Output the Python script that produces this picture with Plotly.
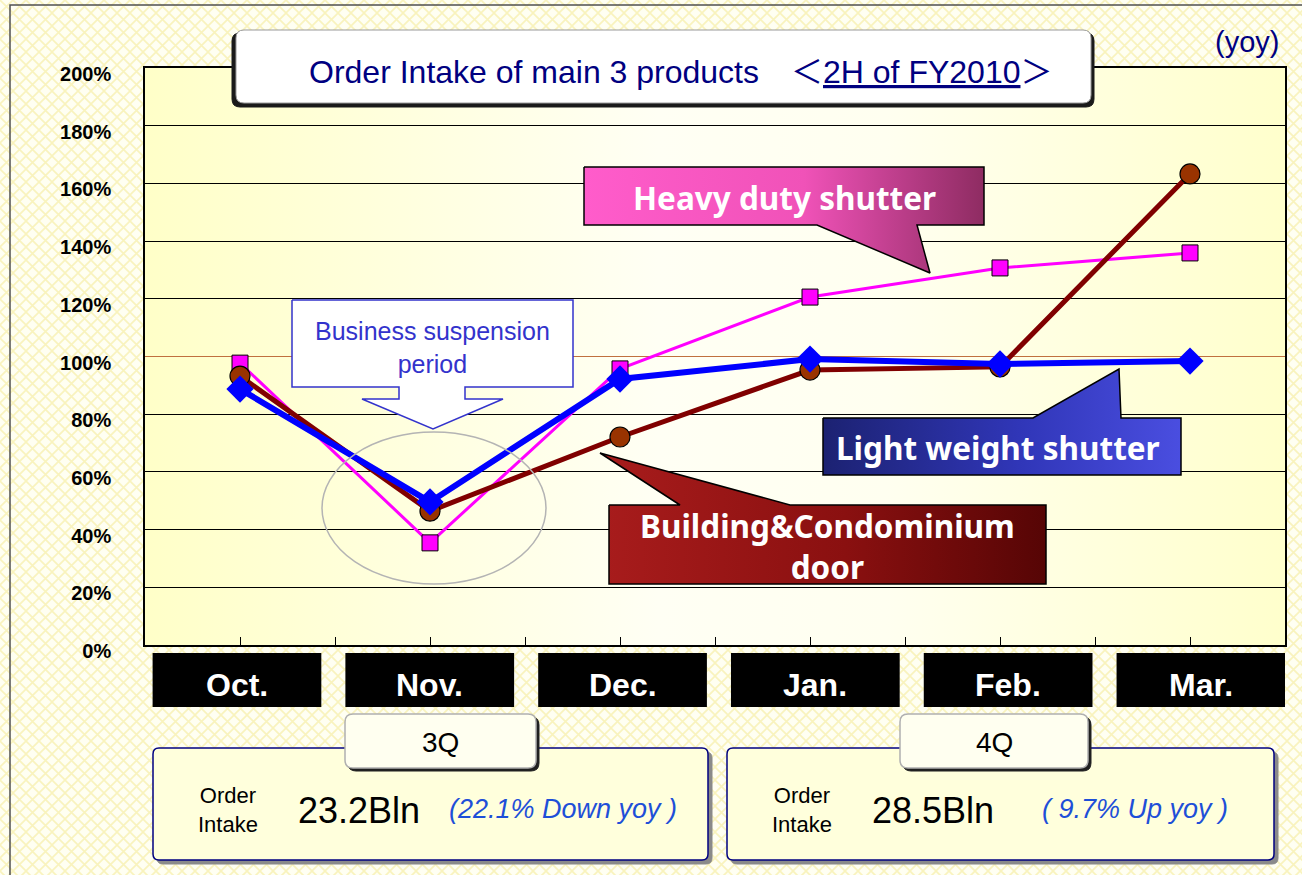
import base64
import plotly.graph_objects as go

# ---------------- data ----------------
months = ["Oct.", "Nov.", "Dec.", "Jan.", "Feb.", "Mar."]
heavy_duty = [97.7, 35.4, 95.7, 120.6, 130.7, 135.9]
light_weight = [88.7, 49.6, 92.2, 99.1, 97.4, 98.4]
building_door = [93.2, 46.4, 72.1, 95.3, 96.4, 163.3]
y_tick_vals = [0, 20, 40, 60, 80, 100, 120, 140, 160, 180, 200]
y_tick_text = ["0%", "20%", "40%", "60%", "80%", "100%", "120%", "140%", "160%", "180%", "200%"]
quarters = ["3Q", "4Q"]
quarter_amount = ["23.2Bln", "28.5Bln"]
quarter_change = ["(22.1% Down yoy )", "( 9.7% Up yoy )"]
title_main = "Order Intake of main 3 products"
title_period = "2H of FY2010"

# ---------------- layout constants (pixels) ----------------
W, H = 1302, 875
PL, PR, PT, PB = 145, 1285, 68, 645
REG = "Liberation Sans, Arial, Noto Sans CJK JP"
BOLD = "Noto Sans, Liberation Sans, Arial"

xs = list(range(len(months)))

# background lattice pattern (paper)
bg_svg = f"""<svg xmlns='http://www.w3.org/2000/svg' width='{W}' height='{H}'>
<defs><pattern id='p' width='13' height='13' patternUnits='userSpaceOnUse'>
<rect width='13' height='13' fill='#fffff2'/>
<path d='M0 0L13 13M13 0L0 13' stroke='#f9f3bd' stroke-width='1.6'/>
</pattern></defs><rect width='{W}' height='{H}' fill='url(#p)'/></svg>"""
plot_svg = """<svg xmlns='http://www.w3.org/2000/svg' width='600' height='300' preserveAspectRatio='none'>
<defs><linearGradient id='g' x1='0' y1='0' x2='1' y2='0'>
<stop offset='0' stop-color='#ffffc8'/><stop offset='0.45' stop-color='#fffff4'/>
<stop offset='0.65' stop-color='#fffff0'/><stop offset='1' stop-color='#ffffcc'/>
</linearGradient></defs><rect width='600' height='300' fill='url(#g)'/></svg>"""


def uri(svg):
    return "data:image/svg+xml;base64," + base64.b64encode(svg.encode()).decode()


fig = go.Figure()

# ---------------- series ----------------
fig.add_trace(go.Scatter(
    x=xs, y=heavy_duty, mode="lines+markers", name="Heavy duty shutter",
    line=dict(color="#ff00ff", width=3),
    marker=dict(symbol="square", size=16, color="#ff00ff", line=dict(color="black", width=1)),
    xaxis="x", yaxis="y", showlegend=False))
fig.add_trace(go.Scatter(
    x=xs, y=building_door, mode="lines+markers", name="Building&Condominium door",
    line=dict(color="#800000", width=5),
    marker=dict(symbol="circle", size=20, color="#993300", line=dict(color="black", width=1.2)),
    xaxis="x", yaxis="y", showlegend=False))
fig.add_trace(go.Scatter(
    x=xs, y=light_weight, mode="lines+markers", name="Light weight shutter",
    line=dict(color="#0000ff", width=6),
    marker=dict(symbol="diamond", size=21, color="#0000ff", line=dict(width=0)),
    xaxis="x", yaxis="y", showlegend=False))


# ---------------- pixel overlay helpers ----------------
def poly(pts, c0, c1, c2=None, lw=1.5, lc="black"):
    xx = [p[0] for p in pts] + [pts[0][0]]
    yy = [p[1] for p in pts] + [pts[0][1]]
    scale = [[0, c0], [1, c1]] if c2 is None else [[0, c0], [0.55, c1], [1, c2]]
    fig.add_trace(go.Scatter(
        x=xx, y=yy, mode="lines", fill="toself",
        fillgradient=dict(type="horizontal", colorscale=scale),
        line=dict(color=lc, width=lw), xaxis="x2", yaxis="y2",
        hoverinfo="skip", showlegend=False))


annotations = []


def ann(x, y, text, size, color="black", family=REG, xanchor="center", yanchor="middle"):
    annotations.append(dict(
        x=x, y=y, xref="x2", yref="y2", text=text, showarrow=False,
        font=dict(size=size, color=color, family=family),
        xanchor=xanchor, yanchor=yanchor))


shapes = []


def rrect(x0, y0, x1, y1, r, fill, line, lw=1.5, layer="above"):
    p = (f"M{x0 + r},{y0} L{x1 - r},{y0} Q{x1},{y0} {x1},{y0 + r} L{x1},{y1 - r} "
         f"Q{x1},{y1} {x1 - r},{y1} L{x0 + r},{y1} Q{x0},{y1} {x0},{y1 - r} "
         f"L{x0},{y0 + r} Q{x0},{y0} {x0 + r},{y0} Z")
    shapes.append(dict(type="path", path=p, xref="x2", yref="y2", fillcolor=fill,
                       line=dict(color=line, width=lw), layer=layer))


# callouts (gradient polygons)
poly([(584, 167), (984, 167), (984, 225), (917, 225), (930, 273), (817, 225), (584, 225)],
     "#ff5ccb", "#f052b8", "#8e2c62")
poly([(823, 418), (1033, 418), (1119, 369), (1121, 418), (1181, 418), (1181, 475), (823, 475)],
     "#1c2272", "#3036b8", "#4a4ee0")
poly([(609, 505), (680, 505), (600, 453), (790, 505), (1046, 505), (1046, 584), (609, 584)],
     "#a81c1c", "#8a1010", "#560505")
# business suspension arrow box
fig.add_trace(go.Scatter(
    x=[292, 573, 573, 465, 465, 503, 433, 362, 399, 399, 292, 292],
    y=[300, 300, 387, 387, 399, 399, 429, 399, 399, 387, 387, 300],
    mode="lines", fill="toself", fillcolor="white",
    line=dict(color="#3333cc", width=1.5), xaxis="x2", yaxis="y2",
    hoverinfo="skip", showlegend=False))

ann(784, 197, "<b>Heavy duty shutter</b>", 31.5, "white", BOLD)
ann(998, 447, "<b>Light weight shutter</b>", 31.5, "white", BOLD)
ann(827, 546, "<b>Building&Condominium<br>door</b>", 31.5, "white", BOLD)
ann(432, 347, "Business suspension<br>period", 25, "#3333cc", REG)

# ellipse
shapes.append(dict(type="circle", xref="x2", yref="y2", x0=322, y0=432, x1=546, y1=584,
                   line=dict(color="#b4b4b4", width=1.5), layer="above"))

# title box
rrect(232, 33, 1094, 107, 8, "#1a1a1a", "#1a1a1a", 1)
rrect(236, 30, 1091, 103, 8, "white", "#9a9a9a", 1)
ann(680, 72, f"{title_main}　＜<u>{title_period}</u>＞", 32, "#000080", REG)
ann(1281, 42, "(yoy)", 29, "#000080", REG, xanchor="right")

# outer frame
shapes.append(dict(type="rect", xref="x2", yref="y2", x0=10, y0=5, x1=1320, y1=890,
                   line=dict(color="#505050", width=1.5), layer="above"))

# month label boxes with the month names
for i in xs:
    cx = i * 1.0147 - 0.016
    shapes.append(dict(type="rect", xref="x", yref="paper",
                       x0=cx - 0.444, x1=cx + 0.444,
                       y0=1 - 707 / H, y1=1 - 653 / H,
                       fillcolor="black", line=dict(width=0), layer="below"))
    annotations.append(dict(x=cx, y=1 - 685 / H, xref="x", yref="paper", text=months[i],
                            showarrow=False, xanchor="center", yanchor="middle",
                            font=dict(family="Liberation Sans, Arial", size=32,
                                      color="white", weight="bold")))

# 100% reference line
shapes.append(dict(type="line", xref="x", yref="y", x0=-0.5, x1=5.5, y0=100, y1=100,
                   line=dict(color="#c0703f", width=1.2), layer="between"))

# quarter boxes
qboxes = [(153, 708, 345, 536), (727, 1274, 900, 1088)]
for qi, (bx0, bx1, tx0, tx1) in enumerate(qboxes):
    rrect(bx0 + 4, 752, bx1 + 4, 864, 6, "#8a8a8a", "#8a8a8a", 1)
    rrect(bx0, 748, bx1, 860, 6, "#ffffdc", "#000080", 1.5)
    rrect(tx0 + 3, 717, tx1 + 3, 771, 8, "#202020", "#202020", 1)
    rrect(tx0, 714, tx1, 768, 8, "#fffff0", "#b0b0b0", 1.5)
    ann((tx0 + tx1) / 2, 742, quarters[qi], 28, "black", REG)
    ann(bx0 + 75, 810, "Order<br>Intake", 22, "black", REG)
    ann(bx0 + 143, 810, quarter_amount[qi], 36, "black", REG, xanchor="left")

ann(447, 809, f"<i>{quarter_change[0]}</i>", 27, "#1e4fd8", REG, xanchor="left")
ann(1040, 809, f"<i>{quarter_change[1]}</i>", 27, "#1e4fd8", REG, xanchor="left")

fig.update_layout(
    width=W, height=H, margin=dict(l=0, r=0, t=0, b=0, pad=0, autoexpand=False),
    autosize=False,
    paper_bgcolor="#fffff2", plot_bgcolor="rgba(0,0,0,0)",
    xaxis=dict(domain=[PL / W, PR / W], range=[-0.5, 5.5], tickvals=xs, ticktext=months,
               showticklabels=False,
               ticks="inside", ticklen=8, tickcolor="black", tickwidth=1,
               minor=dict(dtick=0.5, tick0=-0.5, ticks="inside", ticklen=8,
                          tickcolor="black", showgrid=False),
               showgrid=False, zeroline=False, showline=True, linecolor="black",
               linewidth=1.5, mirror=True, fixedrange=True, automargin=False),
    yaxis=dict(domain=[1 - PB / H, 1 - PT / H], range=[0, 200], tickvals=y_tick_vals,
               ticktext=y_tick_text, showgrid=True, gridcolor="black", gridwidth=1,
               zeroline=False, showline=True, linecolor="black", linewidth=1.5,
               mirror=True, ticks="", fixedrange=True, automargin=False,
               tickfont=dict(family="Liberation Sans Narrow, Liberation Sans, Arial",
                             size=20, color="black", weight="bold"),
               ticklabelstandoff=28, ticklabelshift=6),
    xaxis2=dict(domain=[0, 1], range=[0, W], visible=False, anchor="y2", fixedrange=True,
                automargin=False),
    yaxis2=dict(domain=[0, 1], range=[H, 0], visible=False, anchor="x2", fixedrange=True,
                automargin=False),
    images=[
        dict(source=uri(bg_svg), xref="paper", yref="paper", x=0, y=1, sizex=1, sizey=1,
             sizing="stretch", layer="below", xanchor="left", yanchor="top"),
        dict(source=uri(plot_svg), xref="x", yref="y", x=-0.5, y=200, sizex=6, sizey=200,
             sizing="stretch", layer="below", xanchor="left", yanchor="top"),
    ],
    shapes=shapes, annotations=annotations, showlegend=False,
)

fig.write_html("out.html", config={"displayModeBar": False},
               post_script="document.body.style.margin='0';document.body.style.overflow='hidden';")
